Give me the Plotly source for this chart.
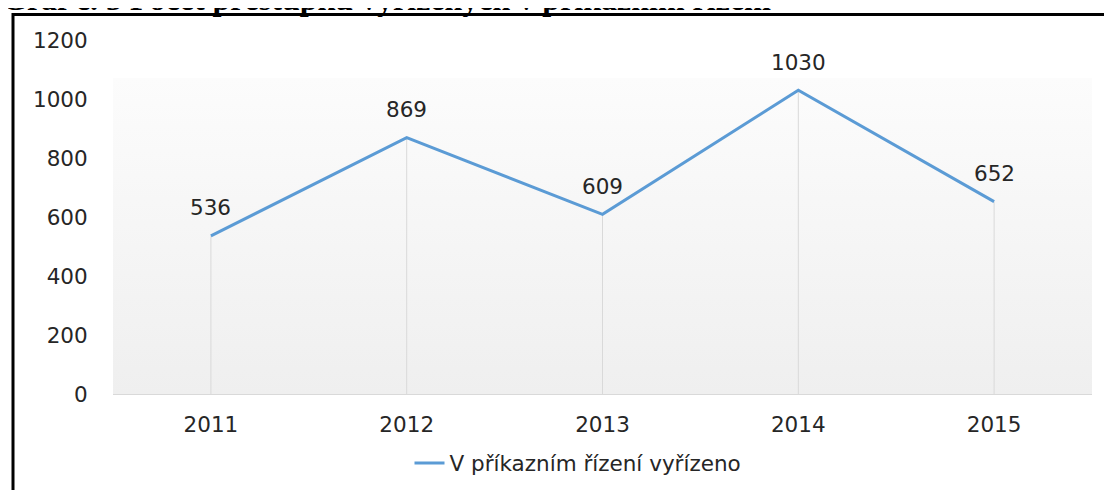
import base64
import plotly.graph_objects as go

years = ["2011", "2012", "2013", "2014", "2015"]
values = [536, 869, 609, 1030, 652]
series_name = "V příkazním řízení vyřízeno"
title_text = "Graf č. 5 Počet přestupků vyřízených v příkazním řízení"
y_ticks = [0, 200, 400, 600, 800, 1000, 1200]

# page offset of the figure inside the browser body is 8px
W, H = 1112, 490
ML, MR, MT, MB = 105, 28, 32, 104
PW, PH = W - ML - MR, H - MT - MB

idx = list(range(len(years)))
FONT = "DejaVu Sans"
TXT = "#262626"
FS = 21.5

fig = go.Figure()
fig.add_trace(go.Scatter(
    x=idx, y=values, mode="lines", name=series_name,
    line=dict(color="#5b9bd5", width=3),
    error_y=dict(type="data", symmetric=False, array=[0] * len(values),
                 arrayminus=values, color="#d9d9d9", thickness=1, width=0),
    hoverinfo="skip",
))

for i, v in zip(idx, values):
    fig.add_annotation(x=i, y=v, text=str(v), showarrow=False, yshift=28,
                       font=dict(family=FONT, size=FS, color=TXT))

svg = ('<svg xmlns="http://www.w3.org/2000/svg" width="100" height="100" preserveAspectRatio="none">'
       '<defs><linearGradient id="g" x1="0" y1="0" x2="0" y2="1">'
       '<stop offset="0" stop-color="#ffffff"/><stop offset="0.107" stop-color="#ffffff"/>'
       '<stop offset="0.108" stop-color="#fcfcfc"/>'
       '<stop offset="1" stop-color="#efefef"/></linearGradient></defs>'
       '<rect width="100" height="100" fill="url(#g)"/></svg>')
src = "data:image/svg+xml;base64," + base64.b64encode(svg.encode()).decode()
fig.add_layout_image(dict(source=src, xref="paper", yref="paper", x=0, y=1,
                          sizex=1, sizey=1, sizing="stretch", layer="below",
                          xanchor="left", yanchor="top"))

# title (cropped at top like the scanned page)
fig.add_annotation(text="<b>" + title_text + "</b>", xref="paper", yref="paper",
                   x=(-8 - ML) / PW, y=1 + (MT + 8 - 19) / PH,
                   xanchor="left", yanchor="bottom", showarrow=False,
                   font=dict(family="Liberation Serif", size=32, color="#000000"))

# border frame (left and top edges visible)
fx0 = (13 - 8 - ML) / PW
fx1 = (1125 - 8 - ML) / PW
fy_top = 1 + (MT + 8 - 14.5) / PH
fy_bot = -(H - MB + 10) / PH
fig.add_shape(type="line", xref="paper", yref="paper",
              x0=fx0, x1=fx0, y0=fy_bot, y1=fy_top + 1.5 / PH,
              line=dict(color="#000000", width=3))
fig.add_shape(type="line", xref="paper", yref="paper",
              x0=fx0, x1=fx1, y0=fy_top, y1=fy_top,
              line=dict(color="#000000", width=3))

fig.update_layout(
    width=W, height=H,
    margin=dict(l=ML, r=MR, t=MT, b=MB),
    paper_bgcolor="#ffffff", plot_bgcolor="rgba(0,0,0,0)",
    showlegend=True,
    legend=dict(orientation="h", x=(578 - 8 - ML) / PW, xanchor="center",
                y=-(463 - 394) / PH, yanchor="middle",
                font=dict(family=FONT, size=FS, color=TXT),
                bgcolor="rgba(0,0,0,0)"),
    xaxis=dict(range=[-0.5, len(years) - 0.5], tickvals=idx, ticktext=years,
               showgrid=False, zeroline=False, showline=True, linecolor="#d9d9d9", linewidth=1,
               ticks="outside", ticklen=11, tickcolor="rgba(0,0,0,0)",
               tickfont=dict(family=FONT, size=FS, color=TXT)),
    yaxis=dict(range=[0, 1200], tickvals=y_ticks, showgrid=False, zeroline=False,
               showline=False, ticks="outside", ticklen=20, tickcolor="rgba(0,0,0,0)",
               tickfont=dict(family=FONT, size=FS, color=TXT)),
)

fig.write_html("out.html")
